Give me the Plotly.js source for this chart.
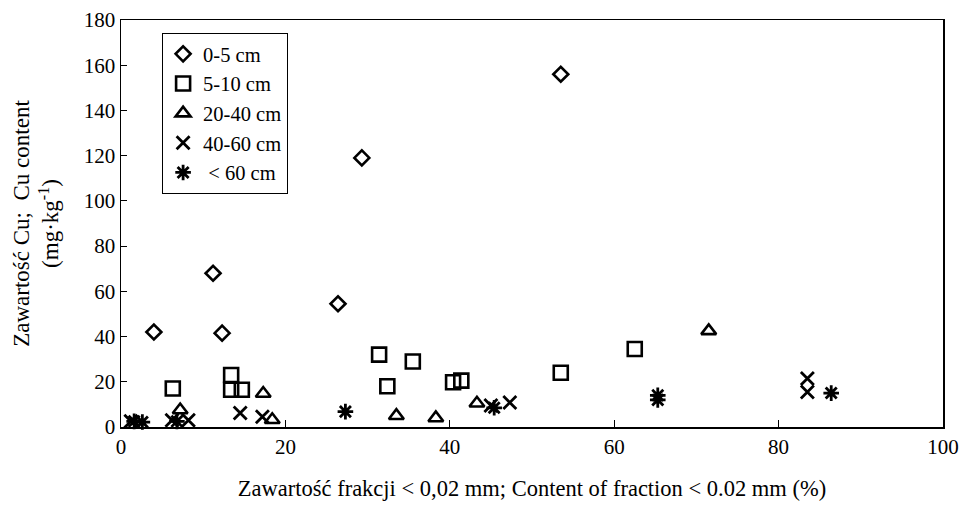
<!DOCTYPE html>
<html>
<head>
<meta charset="utf-8">
<script src="https://cdn.plot.ly/plotly-3.0.1.min.js"></script>
<style>html,body{margin:0;padding:0;background:#fff;}#chart{width:967px;height:511px;}</style>
</head>
<body>
<div id="chart"></div>
<script>
// Data (x: fraction < 0.02 mm, %; y: Cu content, mg/kg)
const seriesNames = ["0-5 cm", "5-10 cm", "20-40 cm", "40-60 cm", " < 60 cm"];

const x0_5 = [4, 11.2, 12.3, 26.4, 29.3, 53.5];
const y0_5 = [42, 68, 41.5, 54.5, 119, 156];

const x5_10 = [6.3, 13.4, 13.4, 14.7, 31.4, 32.4, 35.5, 40.4, 41.4, 53.5, 62.5];
const y5_10 = [17, 23, 16.5, 16.5, 32, 18, 29, 19.8, 20.5, 24, 34.5];

const x20_40 = [7.2, 17.3, 18.4, 33.5, 38.3, 43.3, 71.5];
const y20_40 = [7.5, 14.8, 3.2, 5, 4, 10.5, 42.5];

const x40_60 = [1.2, 6.2, 8.2, 14.5, 17.2, 45, 47.3, 83.5, 83.5];
const y40_60 = [2.5, 3, 3, 6.2, 4.5, 9.5, 10.8, 21.5, 15.5];

const xGt60 = [1.6, 2.6, 6.8, 27.3, 45.4, 65.3, 65.3, 86.4];
const yGt60 = [2.5, 2.2, 2.5, 6.8, 8.5, 14, 12, 15];

const xTicks = [0, 20, 40, 60, 80, 100];
const yTicks = [0, 20, 40, 60, 80, 100, 120, 140, 160, 180];

const symbols = ["diamond-open", "square-open", "triangle-up-open", "x-thin-open", "asterisk-open"];
const sizes = [11.5, 14, 13, 13, 13];
const xs = [x0_5, x5_10, x20_40, x40_60, xGt60];
const ys = [y0_5, y5_10, y20_40, y40_60, yGt60];

const traces = seriesNames.map((n, i) => ({
  type: "scatter",
  mode: "markers",
  name: n,
  x: xs[i],
  y: ys[i],
  cliponaxis: false,
  marker: {
    symbol: symbols[i],
    size: sizes[i],
    color: "#000",
    line: { color: "#000", width: i >= 3 ? 2.8 : 2.6 }
  }
}));

const serif = "Liberation Serif, Times New Roman, serif";

const axisBase = {
  showgrid: false, zeroline: false,
  showline: true, linecolor: "#000", linewidth: 1.5,
  tickcolor: "#000", tickwidth: 1.2
};

const layout = {
  width: 967,
  height: 511,
  paper_bgcolor: "#fff",
  plot_bgcolor: "#fff",
  margin: { l: 121, r: 24, t: 20, b: 84 },
  font: { family: serif, size: 21, color: "#000" },
  showlegend: true,
  legend: {
    x: 0.05, y: 0.968, xanchor: "left", yanchor: "top",
    bordercolor: "#000", borderwidth: 1, bgcolor: "#fff",
    font: { family: serif, size: 20.5, color: "#000" },
    tracegroupgap: 0, itemwidth: 30
  },
  xaxis: Object.assign({}, axisBase, {
    range: [0, 100], tickvals: xTicks, ticktext: xTicks.map(String), mirror: true,
    ticks: "inside", ticklen: 7,
    tickfont: { family: serif, size: 21 },
    title: { text: "Zawartość frakcji < 0,02 mm; Content of fraction < 0.02 mm (%)", font: { family: serif, size: 22.5 }, standoff: 22 }
  }),
  yaxis: Object.assign({}, axisBase, {
    range: [0, 180], tickvals: yTicks, ticktext: yTicks.map(String), mirror: true,
    ticks: "inside", ticklen: 6,
    tickfont: { family: serif, size: 21 },
    title: { text: "Zawartość Cu;  Cu content<br>(mg·kg<sup>-1</sup>)", font: { family: serif, size: 23 }, standoff: 18 }
  }),
  xaxis2: Object.assign({}, axisBase, {
    overlaying: "x", anchor: "y", range: [0, 100], tickvals: xTicks,
    showticklabels: false, ticks: "outside", ticklen: 7, showline: false
  }),
  yaxis2: Object.assign({}, axisBase, {
    overlaying: "y", anchor: "x", range: [0, 180], tickvals: yTicks,
    showticklabels: false, ticks: "outside", ticklen: 5, showline: false
  })
};

Plotly.newPlot("chart", traces, layout, { displayModeBar: false, staticPlot: true });
</script>
</body>
</html>
